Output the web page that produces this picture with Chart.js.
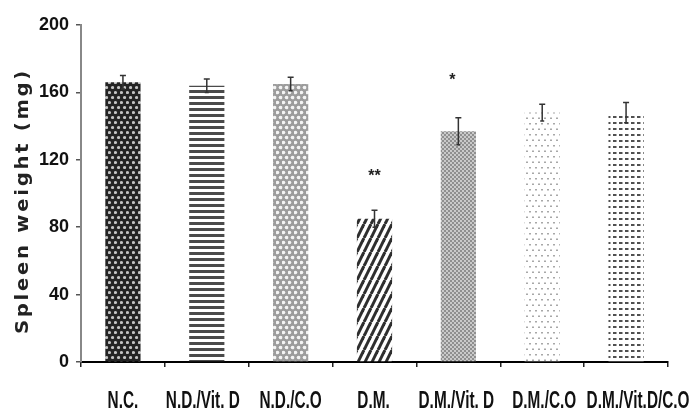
<!DOCTYPE html>
<html><head><meta charset="utf-8">
<script src="https://cdn.jsdelivr.net/npm/chart.js@4.4.1/dist/chart.umd.min.js"></script>
<style>html,body{margin:0;padding:0;background:#fff;}canvas{display:block;}</style>
</head><body>
<canvas id="c" width="697" height="414"></canvas>
<script>
// ---- data ----
const categories = ['N.C.', 'N.D./Vit. D', 'N.D./C.O', 'D.M.', 'D.M./Vit. D', 'D.M./C.O', 'D.M./Vit.D/C.O'];
const spleenWeight = [166, 164, 165, 85, 137, 148, 148];
const spleenError = [4, 4, 4, 5, 8, 5, 6];
const significance = ['', '', '', '**', '*', '', ''];
const significanceLevel = [null, null, null, 113, 170, null, null];
const yTicks = [0, 40, 80, 120, 160, 200];
const yTitle = 'Spleen weight (mg)';

const canvas = document.getElementById('c');
const ctx = canvas.getContext('2d');

// style: small horizontal nudges of text as typeset in the reference
const labelNudge = [0, -4, 0, -1, -2, 2, 12];
const starNudge = [0, 0, 0, 0, -6, 0, 0];

function makePattern(w, h, draw) {
  const c = document.createElement('canvas');
  c.width = w; c.height = h;
  const g = c.getContext('2d');
  draw(g, w, h);
  return ctx.createPattern(c, 'repeat');
}
function dot(g, x, y, r) { g.beginPath(); g.arc(x, y, r, 0, Math.PI * 2); g.fill(); }
function hexDots(g, r) {
  for (const [x, y] of [[1.5, 2.5], [4.5, 7.5], [4.5, -2.5], [1.5, 12.5], [-1.5, 7.5], [7.5, 7.5], [7.5, -2.5], [-1.5, -2.5], [7.5, 12.5]]) dot(g, x, y, r);
}

const patterns = [
  // N.C. dark with light holes
  makePattern(6, 10, (g, w, h) => {
    g.fillStyle = '#232323'; g.fillRect(0, 0, w, h);
    g.fillStyle = '#c4c4c4'; hexDots(g, 1.6);
  }),
  // N.D./Vit. D horizontal lines
  makePattern(6, 6, (g, w, h) => {
    g.fillStyle = '#ffffff'; g.fillRect(0, 0, w, h);
    g.fillStyle = '#4a4a4a'; g.fillRect(0, 0, w, 3);
  }),
  // N.D./C.O light hex
  makePattern(6, 10, (g, w, h) => {
    g.fillStyle = '#9c9c9c'; g.fillRect(0, 0, w, h);
    g.fillStyle = '#f4f4f4'; hexDots(g, 1.8);
  }),
  // D.M. diagonal stripes
  makePattern(7, 14, (g, w, h) => {
    g.fillStyle = '#ffffff'; g.fillRect(0, 0, w, h);
    g.strokeStyle = '#2e2e2e'; g.lineWidth = 3;
    for (const o of [-7, 0, 7]) { g.beginPath(); g.moveTo(o, 14); g.lineTo(o + 7, 0); g.stroke(); }
  }),
  // D.M./Vit. D fine grey checker
  makePattern(4, 4, (g, w, h) => {
    g.fillStyle = '#8f8f8f'; g.fillRect(0, 0, w, h);
    g.fillStyle = '#e6e6e6';
    dot(g, 1, 1, 0.9); dot(g, 3, 3, 0.9);
  }),
  // D.M./C.O sparse light dots
  makePattern(6, 11, (g, w, h) => {
    g.fillStyle = '#ffffff'; g.fillRect(0, 0, w, h);
    g.fillStyle = '#a8a8a8';
    g.fillRect(1, 2, 2, 1.5); g.fillRect(4, 7.5, 2, 1.5);
  }),
  // D.M./Vit.D/C.O dark dashes
  makePattern(6, 6, (g, w, h) => {
    g.fillStyle = '#ffffff'; g.fillRect(0, 0, w, h);
    g.fillStyle = '#505050';
    g.fillRect(1, 2, 3.5, 2);
  })
];

const errorBarPlugin = {
  id: 'errorBars',
  afterDatasetsDraw(chart) {
    const c = chart.ctx, y = chart.scales.y;
    const meta = chart.getDatasetMeta(0);
    c.save();
    c.strokeStyle = '#333'; c.lineWidth = 1.5;
    meta.data.forEach((bar, i) => {
      const x = bar.x;
      const yt = y.getPixelForValue(spleenWeight[i] + spleenError[i]);
      const yb = y.getPixelForValue(spleenWeight[i] - spleenError[i]);
      c.beginPath();
      c.moveTo(x, yt); c.lineTo(x, yb);
      c.moveTo(x - 3, yt); c.lineTo(x + 3, yt);
      c.moveTo(x - 2, yb); c.lineTo(x + 2, yb);
      c.stroke();
      if (significance[i]) {
        c.fillStyle = '#222';
        c.font = 'bold 16px "Liberation Sans", Arial, sans-serif';
        c.textAlign = 'center'; c.textBaseline = 'alphabetic';
        c.fillText(significance[i], x + starNudge[i], y.getPixelForValue(significanceLevel[i]) + 9);
      }
    });
    c.restore();
  }
};

// condensed category labels (reference uses a narrow bold face)
const xLabelPlugin = {
  id: 'xLabels',
  afterDraw(chart) {
    const c = chart.ctx, xs = chart.scales.x;
    c.save();
    c.font = 'bold 24px "Liberation Sans", Arial, sans-serif';
    c.fillStyle = '#111';
    c.textAlign = 'center'; c.textBaseline = 'alphabetic';
    categories.forEach((lab, i) => {
      const x = xs.getPixelForTick(i) + labelNudge[i];
      c.save();
      c.translate(x, 408);
      c.scale(0.64, 1);
      c.fillText(lab, 0, 0);
      c.restore();
    });
    c.restore();
  }
};

const yTitlePlugin = {
  id: 'yTitle',
  afterDraw(chart) {
    const c = chart.ctx;
    c.save();
    c.font = 'bold 18px "DejaVu Sans", sans-serif';
    c.letterSpacing = '2.5px';
    const w = c.measureText(yTitle).width;
    c.translate(23, 334);
    c.rotate(-Math.PI / 2);
    c.scale(266 / w, 1);
    c.textAlign = 'left'; c.textBaseline = 'middle';
    c.fillStyle = '#222';
    c.fillText(yTitle, 0, 0);
    c.restore();
  }
};

new Chart(ctx, {
  type: 'bar',
  data: {
    labels: categories,
    datasets: [{
      data: spleenWeight,
      backgroundColor: patterns,
      borderWidth: 0,
      barPercentage: 0.42,
      categoryPercentage: 1
    }]
  },
  options: {
    responsive: false,
    animation: false,
    devicePixelRatio: 1,
    layout: { padding: { top: 25, right: 29, bottom: 0, left: 0 } },
    plugins: { legend: { display: false }, tooltip: { enabled: false } },
    scales: {
      x: {
        grid: { drawOnChartArea: false, tickLength: 5, color: '#222', lineWidth: 1.5, offset: true },
        border: { color: '#000', width: 2 },
        ticks: { display: false },
        afterFit(s) { s.height = 52; }
      },
      y: {
        min: 0, max: 200,
        afterBuildTicks(s) { s.ticks = yTicks.map(v => ({ value: v })); },
        grid: { drawOnChartArea: false, tickLength: 5, color: '#555', lineWidth: 1.5 },
        border: { color: '#888', width: 2 },
        ticks: { font: { family: '"Liberation Sans", Arial, sans-serif', size: 18, weight: 'bold' }, color: '#111', padding: 7 },
        afterFit(s) { s.width = 81; }
      }
    }
  },
  plugins: [errorBarPlugin, xLabelPlugin, yTitlePlugin]
});
</script>
</body></html>
